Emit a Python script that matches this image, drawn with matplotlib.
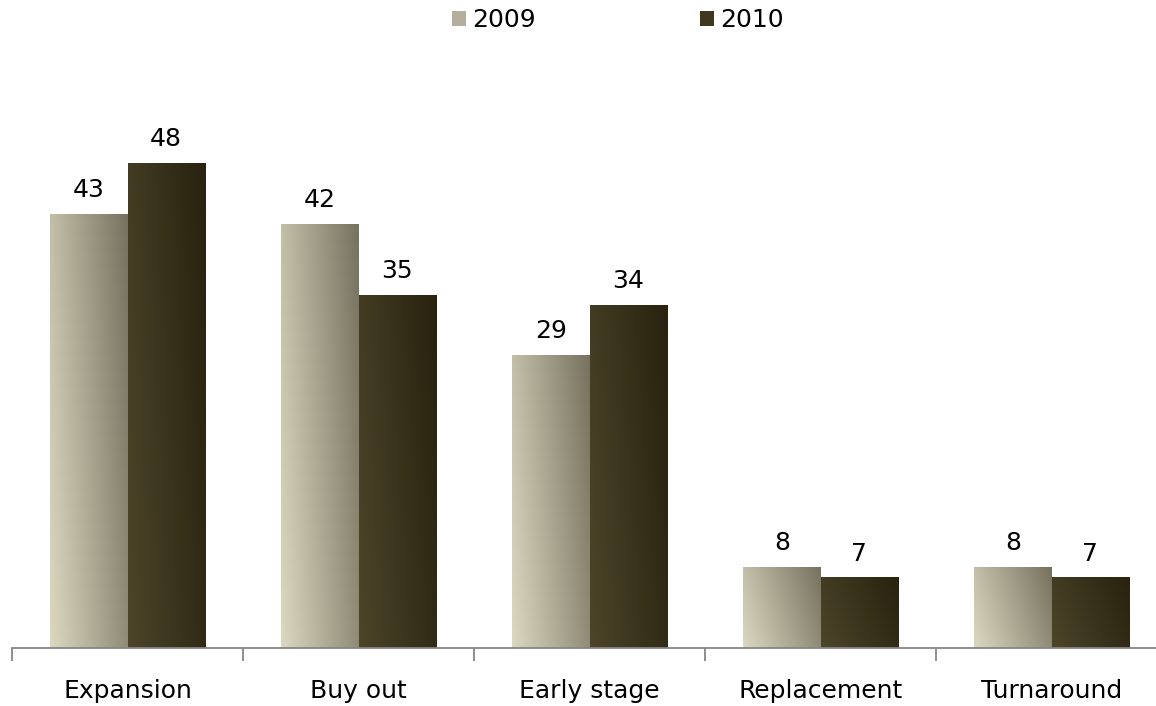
import numpy as np
import matplotlib.pyplot as plt
from matplotlib.patches import Patch
from matplotlib.colors import to_rgb

categories = ['Expansion', 'Buy out', 'Early stage', 'Replacement', 'Turnaround']
series_names = ['2009', '2010']
values_2009 = [43, 42, 29, 8, 8]
values_2010 = [48, 35, 34, 7, 7]

# diagonal gradient endpoints (bottom-left, top-right) per series
grad_2009 = ('#dcd8c0', '#77725f')
grad_2010 = ('#4c4529', '#28220f')

plt.rcParams['font.family'] = ['DejaVu Sans']
fs = 18

fig = plt.figure(figsize=(11.56, 7.06), dpi=100)
ax = fig.add_axes([12 / 1156, 1 - 648 / 706, 1155 / 1156, 606 / 706])

x = np.arange(len(categories))
w = 0.335


def gradient_fill(bar, c0, c1):
    bx, by = bar.get_x(), bar.get_y()
    bw, bh = bar.get_width(), bar.get_height()
    n = 64
    u = np.linspace(0, 1, n)
    # light at lower left, darker toward upper right
    t = np.clip(u[None, :] * 0.75 + u[::-1, None] * 0.25, 0, 1)
    a = np.array(to_rgb(c0))
    b = np.array(to_rgb(c1))
    img = a[None, None, :] * (1 - t[..., None]) + b[None, None, :] * t[..., None]
    im = ax.imshow(img, extent=(bx, bx + bw, by, by + bh), aspect='auto',
                   origin='upper', zorder=2, interpolation='bilinear')
    im.set_clip_path(bar)


bars09 = ax.bar(x - w / 2, values_2009, w, color='none', zorder=1)
bars10 = ax.bar(x + w / 2, values_2010, w, color='none', zorder=1)
for b in bars09:
    gradient_fill(b, *grad_2009)
for b in bars10:
    gradient_fill(b, *grad_2010)

for bars, vals in ((bars09, values_2009), (bars10, values_2010)):
    for b, v in zip(bars, vals):
        ax.text(b.get_x() + b.get_width() / 2, v + 2.35, str(v),
                ha='center', va='center', fontsize=fs, color='#000000')

ax.set_xlim(-0.5, len(categories) - 0.5)
ax.set_ylim(0, 60)
ax.set_yticks([])
for s in ['top', 'right', 'left']:
    ax.spines[s].set_visible(False)
ax.spines['bottom'].set_color('#868686')
ax.spines['bottom'].set_linewidth(1.3)

ax.set_xticks(np.arange(len(categories) + 1) - 0.5, minor=False)
ax.set_xticklabels([''] * (len(categories) + 1))
ax.tick_params(axis='x', which='major', length=9, width=1.3, color='#868686')
ax.set_xticks(x, minor=True)
ax.set_xticklabels(categories, minor=True, fontsize=fs)
ax.tick_params(axis='x', which='minor', length=0, pad=22)

handles = [Patch(facecolor='#b3af9c', edgecolor='none'),
           Patch(facecolor='#3e3820', edgecolor='none')]
fig.legend(handles, series_names, loc='upper center', bbox_to_anchor=(0.5346, 1.02),
           ncol=2, frameon=False, fontsize=fs, handlelength=0.55, handleheight=0.55,
           handletextpad=0.25, columnspacing=6.55)

fig.savefig('out.png', dpi=100)
